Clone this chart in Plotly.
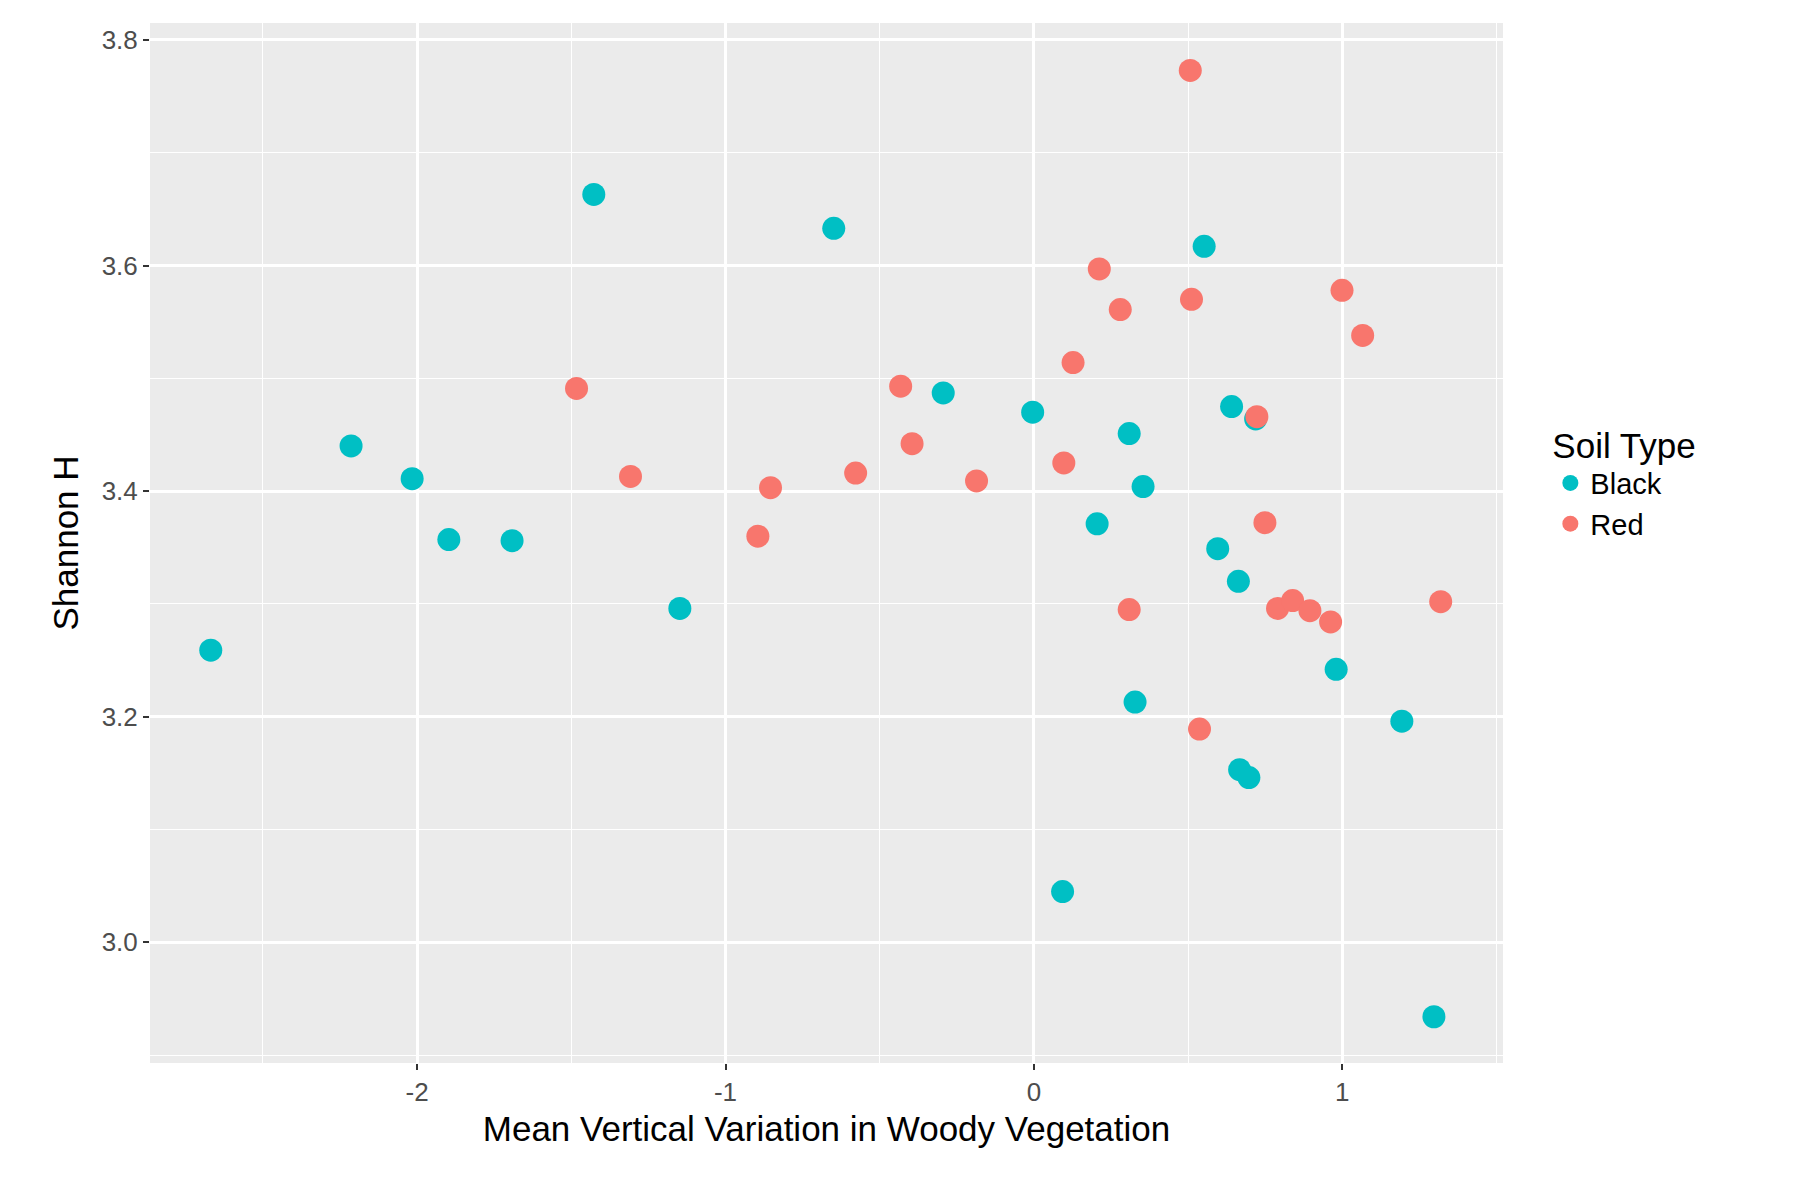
import plotly.graph_objects as go

black_x = [-2.669,-2.214,-2.016,-1.897,-1.692,-1.427,-1.148,-0.649,-0.294,-0.004,0.093,0.205,0.309,0.354,0.328,0.552,0.641,0.719,0.596,0.663,0.667,0.697,0.980,1.193,1.297]
black_y = [3.259,3.440,3.411,3.357,3.356,3.663,3.296,3.633,3.487,3.470,3.045,3.371,3.451,3.404,3.213,3.617,3.475,3.464,3.349,3.320,3.153,3.146,3.242,3.196,2.934]
red_x = [0.507,0.212,0.280,0.511,0.999,1.066,0.127,-0.432,-1.483,-1.308,-0.854,-0.578,-0.395,-0.186,-0.895,0.097,0.723,0.749,0.309,0.790,0.839,0.895,0.962,1.319,0.537]
red_y = [3.773,3.597,3.561,3.570,3.578,3.538,3.514,3.493,3.491,3.413,3.403,3.416,3.442,3.409,3.360,3.425,3.466,3.372,3.295,3.296,3.303,3.294,3.284,3.302,3.189]

fig = go.Figure()
fig.add_trace(go.Scatter(x=black_x, y=black_y, mode="markers", name="Black",
                         marker=dict(color="#00BFC4", size=23)))
fig.add_trace(go.Scatter(x=red_x, y=red_y, mode="markers", name="Red",
                         marker=dict(color="#F8766D", size=23)))

axis_common = dict(showgrid=True, gridcolor="white", gridwidth=2.5, zeroline=False,
                   ticks="outside", ticklen=6, tickwidth=2, tickcolor="#333333",
                   tickfont=dict(size=26, color="#4d4d4d"), showline=False,
                   minor=dict(showgrid=True, gridcolor="white", gridwidth=1.2))
fig.update_xaxes(range=[-2.866, 1.521], tickvals=[-2,-1,0,1], ticktext=["-2","-1","0","1"],
                 minor_dtick=0.5, minor_tick0=0.5,
                 title=dict(text="Mean Vertical Variation in Woody Vegetation", font=dict(size=35, color="black"), standoff=10),
                 **axis_common)
fig.update_yaxes(range=[2.893, 3.815], tickvals=[3.0,3.2,3.4,3.6,3.8], ticktext=["3.0","3.2","3.4","3.6","3.8"],
                 minor_dtick=0.1, minor_tick0=0.1,
                 title=dict(text="Shannon H", font=dict(size=35, color="black"), standoff=12),
                 **axis_common)
fig.update_layout(width=1800, height=1200, plot_bgcolor="#EBEBEB", paper_bgcolor="white",
                  font=dict(family="Liberation Sans, Arial, sans-serif"),
                  margin=dict(l=142, r=305, t=15, b=145),
                  legend=dict(title=dict(text="Soil Type", font=dict(size=35, color="black")),
                              font=dict(size=29, color="black"), x=1.035, y=0.56, yanchor="middle",
                              itemsizing="trace", tracegroupgap=22, bgcolor="white"))
fig.write_html("out.html")
